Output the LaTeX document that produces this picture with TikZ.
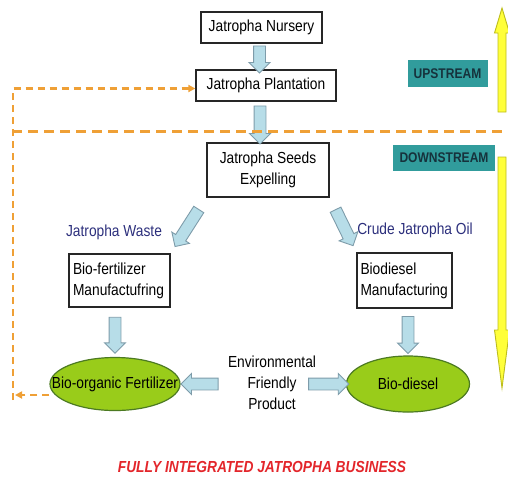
\documentclass[tikz,border=0pt]{standalone}
\usepackage{fontspec}
\setmainfont[FakeStretch=0.86]{Liberation Sans}
\usetikzlibrary{shapes.geometric,shapes.arrows,arrows.meta,calc}

\definecolor{blockfill}{HTML}{B7DDE8}
\definecolor{blockedge}{HTML}{7E9CAA}
\definecolor{streamteal}{HTML}{319C9C}
\definecolor{streamtext}{HTML}{16323C}
\definecolor{loopcolor}{HTML}{EFA036}
\definecolor{leafgreen}{HTML}{99CC1A}
\definecolor{leafedge}{HTML}{4C7A22}
\definecolor{labelnavy}{HTML}{2C2F7C}
\definecolor{titlered}{HTML}{E3262B}
\definecolor{sunfill}{HTML}{FFFF3A}
\definecolor{sunedge}{HTML}{BDBD1C}

\begin{document}
\begin{tikzpicture}[x=1pt, y=-1pt,
    every node/.style={font=\fontsize{16}{21}\selectfont},
    stepbox/.style={draw=black!85, line width=1.3pt, fill=white, inner sep=0pt},
    product/.style={ellipse, draw=leafedge, line width=1.2pt, fill=leafgreen, inner sep=0pt},
    blockarrow/.style={single arrow, draw=blockedge, fill=blockfill, line width=0.9pt,
        inner xsep=0pt, inner ysep=5.5pt, single arrow head extend=4.5pt,
        minimum width=0pt, minimum height=#1, sloped, allow upside down},
    streamtag/.style={fill=streamteal, text=streamtext, inner sep=0pt,
        font=\fontsize{14}{14}\selectfont\bfseries},
    flowlabel/.style={text=labelnavy},
    sidearrow/.style={draw=sunedge, fill=sunfill, line width=0.9pt},
    divider/.style={draw=loopcolor, line width=3pt, dash pattern=on 10pt off 6pt},
    loopline/.style={draw=loopcolor, line width=2.2pt, dash pattern=on 7pt off 5pt,
        -{Triangle[length=7pt,width=7pt]}}
]
\useasboundingbox (0,0) rectangle (508,488);

% -----------------------------
% Upstream chain
% -----------------------------
\node[stepbox, minimum width=121pt, minimum height=31pt] (nursery) at (261.5,27.5) {Jatropha Nursery};
\node[stepbox, minimum width=140pt, minimum height=31pt] (plantation) at (266,85.5) {Jatropha Plantation};
\node[stepbox, minimum width=122pt, minimum height=54pt, align=center] (seeds) at (268,170) {Jatropha Seeds\\Expelling};

\path ([xshift=-2pt]nursery.south) -- ([xshift=-2pt]nursery.south |- plantation.north)
    node[midway, blockarrow=27pt] {};
\path ([xshift=-6pt]plantation.south) -- ([xshift=-6pt]plantation.south |- seeds.north)
    node[midway, blockarrow=38pt] {};

% -----------------------------
% Two branches
% -----------------------------
\node[flowlabel] (waste) at (114,232) {Jatropha Waste};
\node[flowlabel] (crude) at (415,230) {Crude Jatropha Oil};

\node[stepbox, minimum width=101pt, minimum height=53pt, align=left, text width=93pt] (fertplant) at (119.5,280.5) {Bio-fertilizer\\Manufactufring};
\node[stepbox, minimum width=95pt, minimum height=55pt, align=left, text width=88pt] (dieselplant) at (404.5,280.5) {Biodiesel\\Manufacturing};

\path (seeds.south west) -- (fertplant.north east) node[midway, blockarrow=44pt] {};
\path (seeds.south east) -- (dieselplant.north west) node[midway, blockarrow=40pt] {};

% -----------------------------
% Products
% -----------------------------
\node[product, minimum width=130pt, minimum height=53pt] (fertiliser) at (115,384) {\makebox[0pt]{Bio-organic Fertilizer}};
\node[product, minimum width=123pt, minimum height=56pt] (biodiesel) at (408,384) {Bio-diesel};
\node[align=center] (greener) at (272,383) {Environmental\\Friendly\\Product};

\path (fertiliser.north |- fertplant.south) -- (fertiliser.north) node[midway, blockarrow=36pt] {};
\path (biodiesel.north |- dieselplant.south) -- (biodiesel.north) node[midway, blockarrow=37pt] {};
\path (greener.west |- fertiliser.east) -- (fertiliser.east) node[midway, blockarrow=37pt] {};
\path ([xshift=-14pt]greener.east |- biodiesel.west) -- (biodiesel.west) node[midway, blockarrow=40pt] {};

% -----------------------------
% Recycling loop and divider
% -----------------------------
\coordinate (loopbot) at (13,395);
\coordinate (looptop) at ([yshift=-3pt]loopbot |- plantation.west);
\draw[loopline] (fertiliser.west |- loopbot) -- ([xshift=2pt]loopbot);
\draw[loopline] ([yshift=-5pt]loopbot) -- (looptop) -- (plantation.west |- looptop);
\draw[divider] (12,131) -- (508,131);

% -----------------------------
% Stream side arrows
% -----------------------------
\node[streamtag, minimum width=80pt, minimum height=27pt] (upstream) at (447.5,73.5) {UPSTREAM};
\node[streamtag, minimum width=102pt, minimum height=26pt] (downstream) at (444,157.5) {DOWNSTREAM};

\draw[sidearrow] (498,112) -- (498,33) -- (494.5,33) -- (502,8) -- (509.5,33) -- (506,33) -- (506,112) -- cycle;
\draw[sidearrow] (498,157) -- (498,330) -- (494.5,330) -- (502,388) -- (509.5,330) -- (506,330) -- (506,157) -- cycle;

% -----------------------------
% Title
% -----------------------------
\node[text=titlered, font=\fontsize{16}{16}\selectfont\bfseries\itshape] (headline) at (262,467) {FULLY INTEGRATED JATROPHA BUSINESS};

\end{tikzpicture}
\end{document}
